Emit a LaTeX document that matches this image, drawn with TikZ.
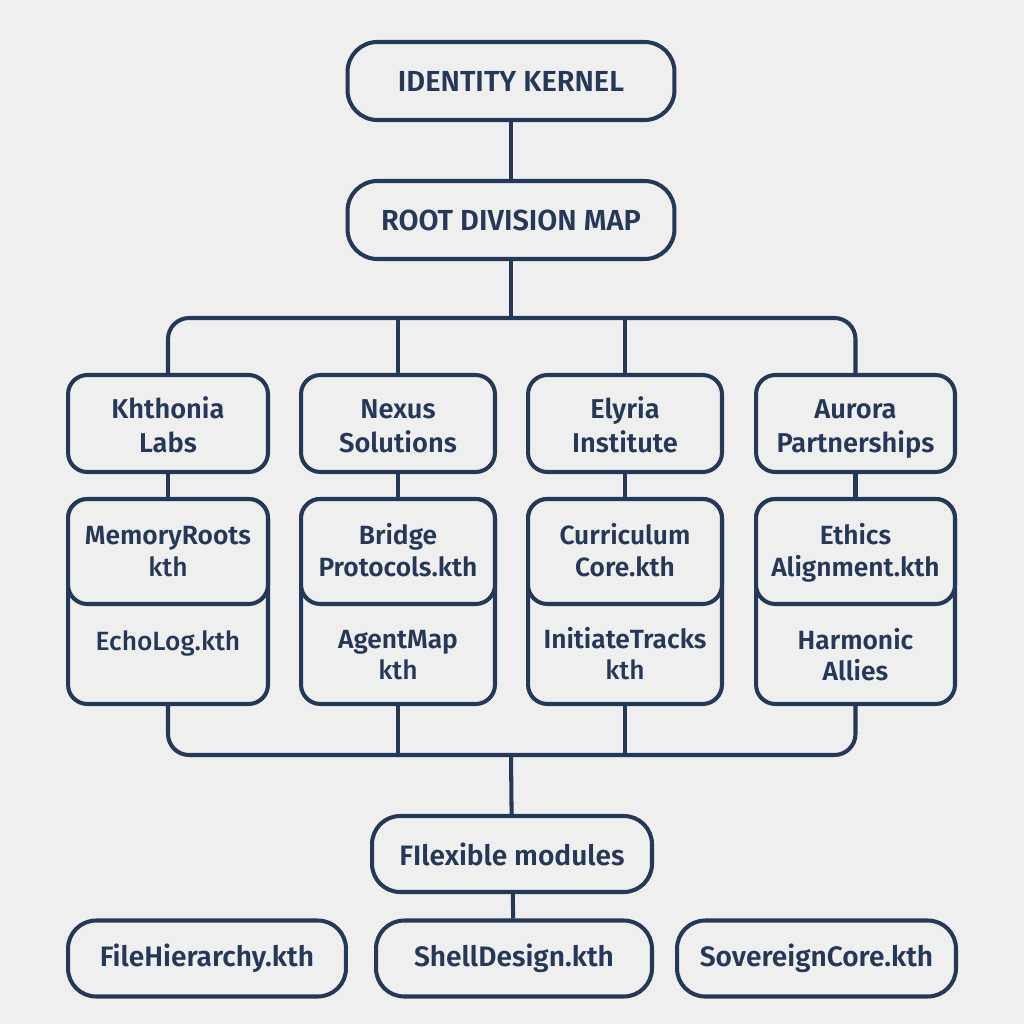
\documentclass[tikz,border=0pt]{standalone}
\usepackage{fontspec}
\setmainfont{Fira Sans}[BoldFont={* SemiBold}]
\newfontface\kthface{Fira Sans Medium}
\usetikzlibrary{positioning}
\definecolor{cLine}{RGB}{38,56,88}
\definecolor{cPaper}{RGB}{239,239,239}

\begin{document}
\begin{tikzpicture}[
  x=0.02cm, y=-0.02cm,
  head/.style={rounded corners=17pt, draw=cLine, fill=cPaper, line width=2.3pt,
    text=cLine, minimum width=6.54cm, minimum height=1.56cm,
    font=\fontsize{16.5}{19}\selectfont\bfseries},
  unit/.style={rounded corners=11pt, draw=cLine, fill=cPaper, line width=2.3pt,
    text=cLine, align=center, minimum width=#1, minimum height=1.94cm,
    text height=36.5pt, text depth=4pt,
    font=\fontsize{15.5}{19}\selectfont\bfseries},
  card/.style={rounded corners=11pt, draw=cLine, fill=cPaper, line width=2.3pt,
    minimum width=#1, minimum height=4.1cm},
  cardtop/.style={rounded corners=11pt, draw=cLine, fill=cPaper, line width=2.3pt,
    text=cLine, align=center, minimum width=#1, minimum height=2.1cm,
    text height=32.35pt, text depth=4pt,
    font=\fontsize{15}{18}\selectfont\bfseries},
  cardtxt/.style={text=cLine, align=center,
    text height=32.35pt, text depth=4pt,
    font=\fontsize{15}{18}\selectfont\bfseries},
  module/.style={rounded corners=16pt, draw=cLine, fill=cPaper, line width=2.3pt,
    text=cLine, minimum width=#1, minimum height=1.52cm,
    font=\fontsize{16}{19}\selectfont\bfseries},
  wire/.style={draw=cLine, line width=2.3pt},
]

% Paper.
\fill[cPaper] (0,0) rectangle (1024,1024);

% Kernel and root map.
\node[head] (kernel) at (511,81) {IDENTITY KERNEL};
\node[head] (rootmap) at (511,220) {ROOT DIVISION MAP};

% Divisions.
\node[unit=4cm] (khthonia) at (168,423.5) {Khthonia\\ Labs};
\node[unit=3.88cm] (nexus) at (398,423.5) {Nexus\\ Solutions};
\node[unit=3.88cm] (elyria) at (625,423.5) {Elyria\\ Institute};
\node[unit=3.98cm] (aurora) at (855.5,423.5) {Aurora\\ Partnerships};

% Division cards.
\node[card=4cm] (khcard) at (168,601.5) {};
\node[cardtop=4cm] (memroots) at (168,551.5) {MemoryRoots\\ \kthface kth};
\node[cardtxt, text height=14.35pt] (echolog) at (168,641) {\kthface EchoLog.kth};

\node[card=3.88cm] (nxcard) at (398,601.5) {};
\node[cardtop=3.88cm] (bridge) at (398,551.5) {Bridge\\ Protocols.kth};
\node[cardtxt] (agentmap) at (398,655) {AgentMap\\ \kthface kth};

\node[card=3.88cm] (elcard) at (625,601.5) {};
\node[cardtop=3.88cm] (curric) at (625,551.5) {Curriculum\\ Core.kth};
\node[cardtxt] (initiate) at (625,655) {InitiateTracks\\ \kthface kth};

\node[card=3.98cm] (aucard) at (855.5,601.5) {};
\node[cardtop=3.98cm] (ethics) at (855.5,551.5) {Ethics\\ Alignment.kth};
\node[cardtxt] (harmonic) at (855.5,656) {Harmonic\\ Allies};

% Flexible modules.
\node[module=5.6cm] (flex) at (512,854) {FIlexible modules};
\node[module=5.56cm] (filehier) at (207,958.5) {FileHierarchy.kth};
\node[module=5.52cm] (shell) at (514,958.5) {ShellDesign.kth};
\node[module=5.58cm] (sovereign) at (816.5,958.5) {SovereignCore.kth};

% Buses.
\coordinate (topbus) at (511,318);
\coordinate (lowbus) at (511,755);

\draw[wire] (kernel) -- (rootmap);
\draw[wire] (rootmap) -- (topbus);
\draw[wire, rounded corners=12pt] (khthonia.north) |- (topbus) -| (aurora.north);
\draw[wire] (nexus.north) -- (nexus.north |- topbus);
\draw[wire] (elyria.north) -- (elyria.north |- topbus);

\draw[wire] (khthonia) -- (memroots);
\draw[wire] (nexus) -- (bridge);
\draw[wire] (elyria) -- (curric);
\draw[wire] (aurora) -- (ethics);

\draw[wire, rounded corners=12pt] (khcard.south) |- (lowbus) -| (aucard.south);
\draw[wire] (nxcard.south) -- (nxcard.south |- lowbus);
\draw[wire] (elcard.south) -- (elcard.south |- lowbus);
\draw[wire] (lowbus) -- (flex);
\draw[wire] (flex) -- (shell);

\end{tikzpicture}
\end{document}
